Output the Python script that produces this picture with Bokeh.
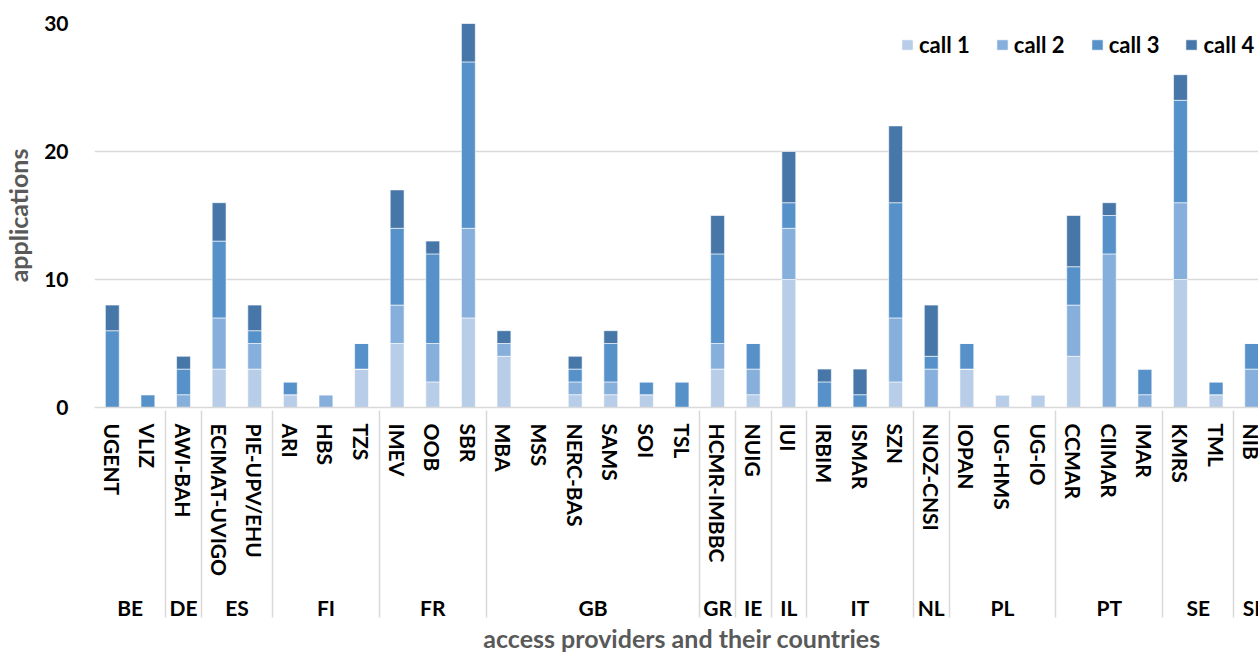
from bokeh.plotting import figure
from bokeh.models import ColumnDataSource, FactorRange, Range1d, FixedTicker, Column
from bokeh.embed import file_html
from bokeh.resources import INLINE

countries = ["BE", "BE", "DE", "ES", "ES", "FI", "FI", "FI", "FR", "FR", "FR",
             "GB", "GB", "GB", "GB", "GB", "GB", "GR", "IE", "IL", "IT", "IT", "IT",
             "NL", "PL", "PL", "PL", "PT", "PT", "PT", "SE", "SE", "SI"]
providers = ["UGENT", "VLIZ", "AWI-BAH", "ECIMAT-UVIGO", "PIE-UPV/EHU", "ARI", "HBS", "TZS",
             "IMEV", "OOB", "SBR", "MBA", "MSS", "NERC-BAS", "SAMS", "SOI", "TSL",
             "HCMR-IMBBC", "NUIG", "IUI", "IRBIM", "ISMAR", "SZN", "NIOZ-CNSI",
             "IOPAN", "UG-HMS", "UG-IO", "CCMAR", "CIIMAR", "IMAR", "KMRS", "TML", "NIB"]
call1 = [0, 0, 0, 3, 3, 1, 0, 3, 5, 2, 7, 4, 0, 1, 1, 1, 0, 3, 1, 10, 0, 0, 2, 0, 3, 1, 1, 4, 0, 0, 10, 1, 0]
call2 = [0, 0, 1, 4, 2, 0, 1, 0, 3, 3, 7, 1, 0, 1, 1, 0, 0, 2, 2, 4, 0, 0, 5, 3, 0, 0, 0, 4, 12, 1, 6, 0, 3]
call3 = [6, 1, 2, 6, 1, 1, 0, 2, 6, 7, 13, 0, 0, 1, 3, 1, 2, 7, 2, 2, 2, 1, 9, 1, 2, 0, 0, 3, 3, 2, 8, 1, 2]
call4 = [2, 0, 1, 3, 2, 0, 0, 0, 3, 1, 3, 1, 0, 1, 1, 0, 0, 3, 0, 4, 1, 2, 6, 4, 0, 0, 0, 4, 1, 0, 2, 0, 0]
series = ["call 1", "call 2", "call 3", "call 4"]
colors = ["#b8cde8", "#86afdc", "#5692c9", "#4777a8"]
y_ticks = [0, 10, 20, 30]

FONT = "Lato"
factors = list(zip(countries, providers))
source = ColumnDataSource(data=dict(x=factors, **{"call 1": call1, "call 2": call2,
                                                  "call 3": call3, "call 4": call4}))

xr = FactorRange(*factors, factor_padding=0, group_padding=0, subgroup_padding=0, range_padding=0)

p = figure(width=1269, height=670, x_range=xr, y_range=Range1d(0, 30),
           output_backend="svg", toolbar_location=None,
           min_border_left=94, min_border_right=0, min_border_top=23, min_border_bottom=263,
           styles={"min-width": "1269px", "min-height": "670px", "flex-shrink": "0"})

p.vbar_stack(series, x="x", width=0.39, source=source, color=colors,
             line_color="white", line_width=0.6, legend_label=series)

p.outline_line_color = None
p.xgrid.grid_line_color = None
p.ygrid.grid_line_color = "#d9d9d9"
p.ygrid.grid_line_width = 1.5

ya = p.yaxis[0]
ya.ticker = FixedTicker(ticks=y_ticks)
ya.axis_line_color = None
ya.major_tick_line_color = None
ya.minor_tick_line_color = None
ya.major_tick_out = 0
ya.major_tick_in = 0
ya.major_label_standoff = 26
ya.major_label_text_font = FONT
ya.major_label_text_font_style = "bold"
ya.major_label_text_font_size = "21px"
ya.major_label_text_color = "black"
ya.axis_label = "applications"
ya.axis_label_text_font = FONT
ya.axis_label_text_font_style = "bold"
ya.axis_label_text_font_size = "25px"
ya.axis_label_text_color = "#595959"
ya.axis_label_standoff = 8

xa = p.xaxis[0]
xa.axis_line_color = "#d9d9d9"
xa.axis_line_width = 1.5
xa.major_tick_line_color = None
xa.major_tick_out = 0
xa.major_tick_in = 0
xa.major_label_standoff = 16
xa.major_label_orientation = "vertical"
xa.major_label_text_font = FONT
xa.major_label_text_font_style = "bold"
xa.major_label_text_font_size = "21px"
xa.major_label_text_color = "black"
xa.group_text_font = FONT
xa.group_text_font_style = "bold"
xa.group_text_font_size = "21px"
xa.group_text_color = "black"
xa.separator_line_color = "#d9d9d9"
xa.separator_line_width = 1.5
xa.axis_label = "access providers and their countries"
xa.axis_label_text_font = FONT
xa.axis_label_text_font_style = "bold"
xa.axis_label_text_font_size = "25px"
xa.axis_label_text_color = "#595959"
xa.axis_label_standoff = 0

lg = p.legend[0]
lg.orientation = "horizontal"
lg.location = (806, 349)
lg.border_line_color = None
lg.background_fill_alpha = 0
lg.padding = 0
lg.margin = 0
lg.spacing = 25
lg.glyph_width = 14
lg.glyph_height = 13
lg.label_standoff = 5
lg.label_text_font = FONT
lg.label_text_font_style = "bold"
lg.label_text_font_size = "22px"
lg.label_text_color = "black"

layout = Column(p, width=1258, height=652, styles={"overflow": "hidden"})

open("out.html", "w").write(file_html(layout, INLINE))
